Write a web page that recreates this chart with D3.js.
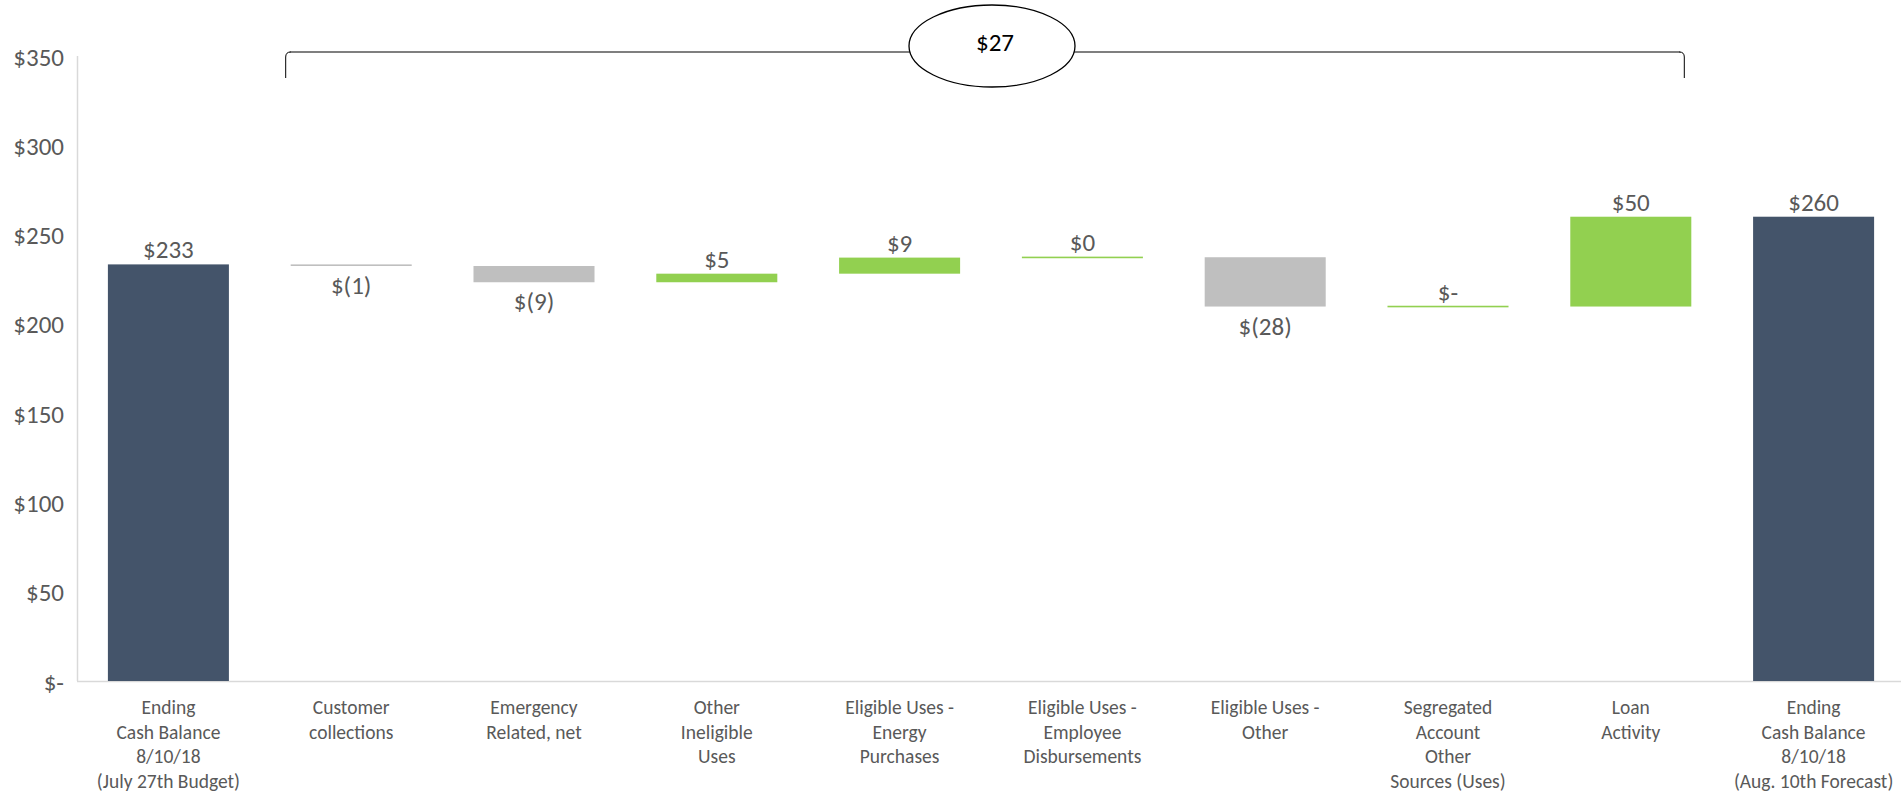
<!DOCTYPE html>
<html>
<head>
<meta charset="utf-8">
<script src="https://cdn.jsdelivr.net/npm/d3@7"></script>
<style>
  html, body { margin: 0; padding: 0; background: #fff; }
  svg text { font-family: Carlito, Calibri, Lato, "Open Sans", sans-serif; font-weight: normal; }
</style>
</head>
<body>
<svg id="chart" width="1901" height="794"></svg>
<script>
// ---- data ----
const categories = [
  "Ending Cash Balance 8/10/18 (July 27th Budget)",
  "Customer collections",
  "Emergency Related, net",
  "Other Ineligible Uses",
  "Eligible Uses - Energy Purchases",
  "Eligible Uses - Employee Disbursements",
  "Eligible Uses - Other",
  "Segregated Account Other Sources (Uses)",
  "Loan Activity",
  "Ending Cash Balance 8/10/18 (Aug. 10th Forecast)"
];
const categoryLines = [
  ["Ending", "Cash Balance", "8/10/18", "(July 27th Budget)"],
  ["Customer", "collections"],
  ["Emergency", "Related, net"],
  ["Other", "Ineligible", "Uses"],
  ["Eligible Uses -", "Energy", "Purchases"],
  ["Eligible Uses -", "Employee", "Disbursements"],
  ["Eligible Uses -", "Other"],
  ["Segregated", "Account", "Other", "Sources (Uses)"],
  ["Loan", "Activity"],
  ["Ending", "Cash Balance", "8/10/18", "(Aug. 10th Forecast)"]
];
// "total" = absolute balance bar, "delta" = change
const barTypes = ["total", "delta", "delta", "delta", "delta", "delta", "delta", "delta", "delta", "total"];
const values = [233.3, -0.9, -9.1, 4.8, 9.0, 0.2, -27.6, 0, 50.3, 260.0];
const yTicks = [0, 50, 100, 150, 200, 250, 300, 350];
const bracketFrom = "Customer collections";
const bracketTo = "Loan Activity";
const bracketLabel = "$27";

// ---- helpers ----
function fmt(v) {
  const r = Math.round(Math.abs(v));
  if (v === 0) return "$-";
  if (v < 0) return "$(" + r + ")";
  return "$" + r;
}
const colors = { total: "#44546A", up: "#92D050", down: "#BFBFBF" };

// ---- build waterfall records ----
let running = 0;
const recs = categories.map((c, i) => {
  const t = barTypes[i], v = values[i];
  let lo, hi, color;
  if (t === "total") {
    lo = 0; hi = v; running = v; color = colors.total;
  } else {
    const start = running, end = running + v;
    lo = Math.min(start, end); hi = Math.max(start, end);
    running = end;
    color = v < 0 ? colors.down : colors.up;
  }
  return { cat: c, type: t, v, lo, hi, color, lines: categoryLines[i] };
});

// ---- scales ----
const svg = d3.select("#chart");
const x = d3.scaleBand().domain(categories).range([77, 1905]).paddingInner(0.338).paddingOuter(0.169);
const y = d3.scaleLinear().domain([0, 350]).range([681, 56]);
const textColor = "#595959";

// axes lines
svg.append("line").attr("x1", 77).attr("x2", 1901).attr("y1", y(0) + 0.5).attr("y2", y(0) + 0.5)
  .attr("stroke", "#D9D9D9").attr("stroke-width", 1.5);
svg.append("line").attr("x1", 77.5).attr("x2", 77.5).attr("y1", y(350)).attr("y2", y(0))
  .attr("stroke", "#D9D9D9").attr("stroke-width", 1.5);

// y tick labels
const yAxis = d3.axisLeft(y).tickValues(yTicks).tickSize(0).tickPadding(0).tickFormat(fmt);
const gy = svg.append("g").attr("transform", "translate(64,0)").call(yAxis);
gy.select(".domain").remove();
gy.selectAll("text").attr("fill", textColor).attr("font-size", 25)
  .style("font-family", "Carlito, Calibri, Lato, sans-serif").attr("dy", "0.36em");

// bars
svg.append("g").selectAll("rect").data(recs).join("rect")
  .attr("x", d => x(d.cat))
  .attr("width", x.bandwidth())
  .attr("y", d => {
    const h = y(d.lo) - y(d.hi);
    return h < 1.6 ? (y(d.hi) + y(d.lo)) / 2 - 0.8 : y(d.hi);
  })
  .attr("height", d => Math.max(1.6, y(d.lo) - y(d.hi)))
  .attr("fill", d => d.color);

// value labels
svg.append("g").selectAll("text").data(recs).join("text")
  .attr("x", d => x(d.cat) + x.bandwidth() / 2)
  .attr("y", d => d.v < 0 ? y(d.lo) + 28 : y(d.hi) - 6)
  .attr("text-anchor", "middle")
  .attr("font-size", 25)
  .attr("fill", textColor)
  .text(d => fmt(d.v));

// category labels
const gx = svg.append("g");
recs.forEach(d => {
  const t = gx.append("text")
    .attr("x", x(d.cat) + x.bandwidth() / 2)
    .attr("y", 714)
    .attr("text-anchor", "middle")
    .attr("font-size", 19.5)
    .attr("fill", textColor);
  d.lines.forEach((ln, i) => {
    t.append("tspan").attr("x", x(d.cat) + x.bandwidth() / 2).attr("y", 714 + i * 24.6).text(ln);
  });
});

// bracket annotation
const bx0 = x(bracketFrom) - 5;
const bx1 = x(bracketTo) + x.bandwidth() - 7;
const by = 52, byEnd = 78;
svg.append("line").attr("x1", bx0 + 4).attr("x2", bx1 - 4).attr("y1", by).attr("y2", by)
  .attr("stroke", "#7F7F7F").attr("stroke-width", 2);
svg.append("path").attr("d", `M${bx0},${byEnd} L${bx0},${by + 5} Q${bx0},${by} ${bx0 + 5},${by}`)
  .attr("fill", "none").attr("stroke", "#000").attr("stroke-width", 1);
svg.append("path").attr("d", `M${bx1},${byEnd} L${bx1},${by + 5} Q${bx1},${by} ${bx1 - 5},${by}`)
  .attr("fill", "none").attr("stroke", "#000").attr("stroke-width", 1);
const ecx = 992, ecy = 46;
svg.append("ellipse").attr("cx", ecx).attr("cy", ecy).attr("rx", 83).attr("ry", 41)
  .attr("fill", "#fff").attr("stroke", "#000").attr("stroke-width", 1.3);
svg.append("text").attr("x", ecx + 3).attr("y", ecy - 4).attr("dy", "0.36em")
  .attr("text-anchor", "middle").attr("font-size", 25).attr("fill", "#000").text(bracketLabel);
</script>
</body>
</html>
